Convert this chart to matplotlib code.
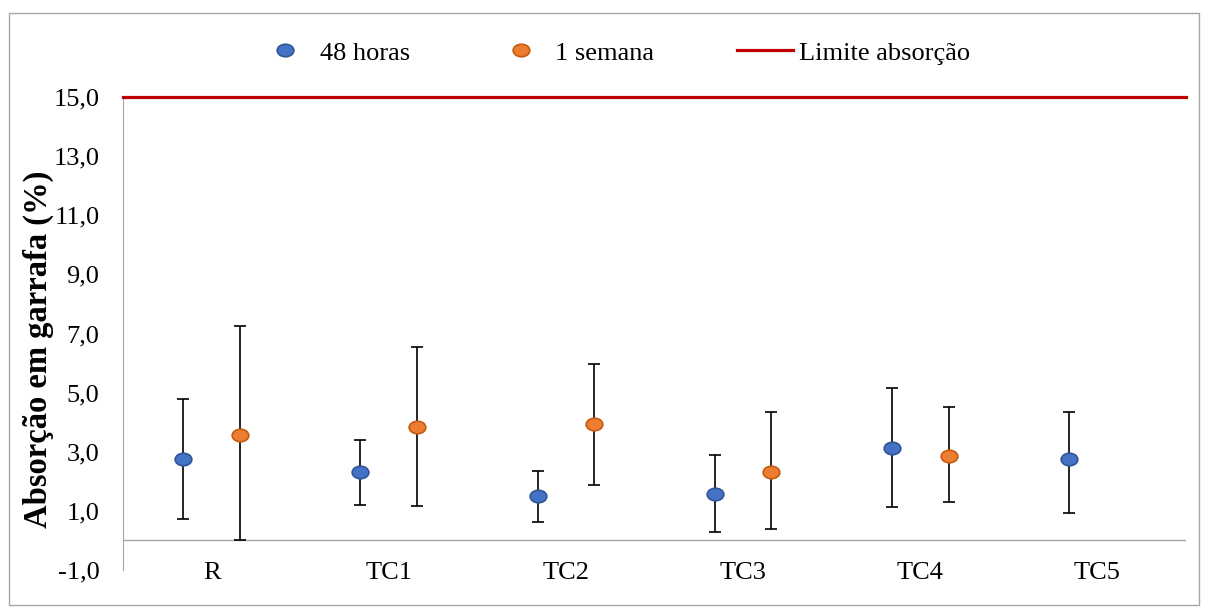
import numpy as np
import matplotlib.pyplot as plt
from matplotlib.path import Path
from matplotlib.patches import Rectangle
from matplotlib.lines import Line2D

plt.rcParams['font.family'] = ['Liberation Serif', 'DejaVu Serif']

categorias = ['R', 'TC1', 'TC2', 'TC3', 'TC4', 'TC5']
h48 = [2.75, 2.33, 1.52, 1.58, 3.14, 2.75]
h48_inf = [2.04, 1.12, 0.88, 1.28, 2.01, 1.83]
h48_sup = [2.03, 1.07, 0.84, 1.31, 2.01, 1.61]
semana = [3.58, 3.85, 3.93, 2.31, 2.84]
semana_inf = [3.55, 2.69, 2.07, 1.91, 1.53]
semana_sup = [3.68, 2.70, 2.04, 2.03, 1.67]
limite = 15.0

azul, azul_borda = '#4472C4', '#2F5597'
laranja, laranja_borda = '#ED7D31', '#C55A11'

# marcador eliptico como no excel
circ = Path.unit_circle()
elipse = Path(circ.vertices * [1.0, 0.75], circ.codes)

fig = plt.figure(figsize=(12.08, 6.11), dpi=100)
fig.patches.append(Rectangle((9 / 1208, 6 / 611), 1190 / 1208, 592 / 611,
                             transform=fig.transFigure, fill=False,
                             edgecolor='#A6A6A6', lw=1.0))
ax = fig.add_axes([123 / 1208, 41 / 611, 1063 / 1208, 473 / 611])

x = np.arange(len(categorias))
desl = 0.16
ax.errorbar(x - desl, h48, yerr=[h48_inf, h48_sup], fmt='none', ecolor='black',
            elinewidth=1.2, capsize=4.5, capthick=1.2, zorder=2)
ax.errorbar(x[:5] + desl, semana, yerr=[semana_inf, semana_sup], fmt='none',
            ecolor='black', elinewidth=1.2, capsize=4.5, capthick=1.2, zorder=2)
ax.plot(x - desl, h48, ls='none', marker=elipse, ms=12, mfc=azul,
        mec=azul_borda, mew=1.2, zorder=3)
ax.plot(x[:5] + desl, semana, ls='none', marker=elipse, ms=12, mfc=laranja,
        mec=laranja_borda, mew=1.2, zorder=3)
ax.axhline(limite, color='#C00000', lw=2.3, zorder=4, clip_on=False)
ax.axhline(0, color='#A6A6A6', lw=1.0, zorder=1)

ax.set_xlim(-0.5, len(categorias) - 0.5)
ax.set_ylim(-1, 15)
ax.set_yticks(np.arange(-1, 16, 2))
ax.set_yticklabels([('%.1f' % v).replace('.', ',') for v in np.arange(-1, 16, 2)])
ax.set_xticks(x)
ax.set_xticklabels(categorias)
ax.tick_params(axis='y', length=0, pad=17, labelsize=19)
ax.tick_params(axis='x', length=0, pad=-6, labelsize=19)
for s in ['top', 'right', 'bottom']:
    ax.spines[s].set_visible(False)
ax.spines['left'].set_color('#A6A6A6')
fig.text(38 / 1208, 1 - 349 / 611, 'Absorção em garrafa (%)', rotation=90,
         ha='center', va='center', fontsize=23.5, fontweight='bold')

handles = [
    Line2D([], [], ls='none', marker=elipse, ms=12, mfc=azul, mec=azul_borda, mew=1.2),
    Line2D([], [], ls='none', marker=elipse, ms=12, mfc=laranja, mec=laranja_borda, mew=1.2),
    Line2D([], [], color='#C00000', lw=2.3),
]
fig.legend(handles, ['48 horas', '1 semana', 'Limite absorção'], loc='center',
           bbox_to_anchor=(614 / 1208, 1 - 53 / 611), ncol=3, frameon=False, fontsize=19,
           handlelength=2.1, handletextpad=0.25, columnspacing=3.15)

fig.savefig('out.png', dpi=100)
